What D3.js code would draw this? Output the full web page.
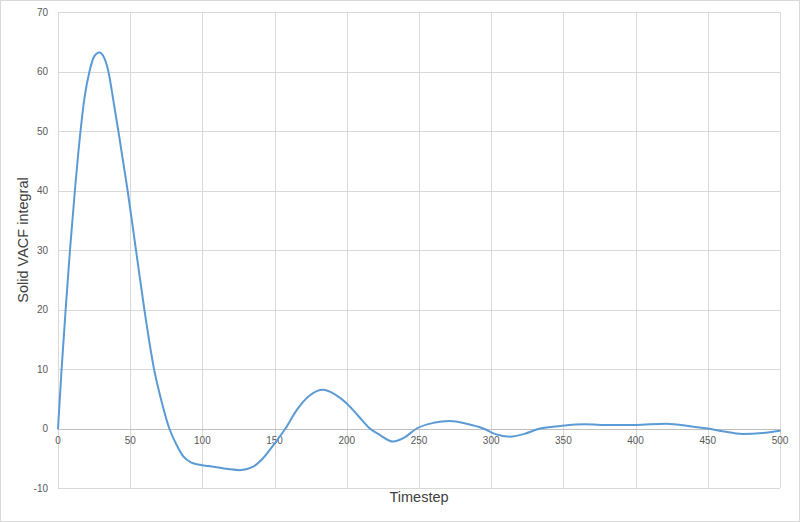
<!DOCTYPE html>
<html>
<head>
<meta charset="utf-8">
<script src="https://cdn.jsdelivr.net/npm/d3@7"></script>
<style>
  html, body { margin: 0; padding: 0; background: #fff; }
  svg { display: block; }
</style>
</head>
<body>
<svg id="chart" width="800" height="522"></svg>
<script>
// ---- data ----
const timesteps = [0, 2.5, 5.3, 8.3, 11.7, 15.6, 18.3, 21.8, 25, 28.6, 32, 34.9, 38.3, 41.8, 45, 48.2,
  54, 59.8, 66.5, 72, 77.1, 82, 86.8, 92, 98.3, 104, 109.9, 118, 126, 135.2, 142, 148.5, 157.5, 165.3,
  174.5, 183.5, 192, 200, 208, 216, 223, 232, 240, 248.4, 260, 271.5, 283, 294.5, 303, 313, 323, 333.8,
  348, 365, 382, 400, 421, 440, 450, 460, 474, 488, 500];
const vacf = [0, 10, 20, 30, 40, 50, 55.5, 60, 62.5, 63.2, 62.3, 60, 55.2, 50, 45, 40,
  30, 20, 10, 4.3, 0, -2.7, -4.7, -5.7, -6.1, -6.3, -6.5, -6.8, -7.0, -6.4, -5.0, -3.0, 0, 3.1,
  5.6, 6.5, 5.7, 4.2, 2.1, 0, -1.1, -2.2, -1.5, 0, 0.95, 1.26, 0.8, 0, -0.95, -1.37, -0.9, 0,
  0.42, 0.7, 0.57, 0.59, 0.81, 0.3, 0, -0.45, -0.92, -0.75, -0.37];
const xTicks = [0, 50, 100, 150, 200, 250, 300, 350, 400, 450, 500];
const yTicks = [-10, 0, 10, 20, 30, 40, 50, 60, 70];
const xTitle = "Timestep";
const yTitle = "Solid VACF integral";

// ---- layout ----
const svg = d3.select("#chart");
const W = 800, H = 522;
const pL = 58, pR = 780, pT = 12, pB = 488;

svg.append("rect").attr("x", 0.5).attr("y", 0.5).attr("width", W - 1).attr("height", H - 1)
  .attr("fill", "#fff").attr("stroke", "#d9d9d9");

const x = d3.scaleLinear().domain([0, 500]).range([pL, pR]);
const y = d3.scaleLinear().domain([-10, 70]).range([pB, pT]);

const font = "'Liberation Sans', Arial, sans-serif";

// gridlines
const g = svg.append("g");
g.selectAll("line.v").data(xTicks).join("line")
  .attr("x1", d => Math.round(x(d)) + 0.5).attr("x2", d => Math.round(x(d)) + 0.5)
  .attr("y1", pT).attr("y2", pB)
  .attr("stroke", "#d9d9d9").attr("stroke-width", 1);
g.selectAll("line.h").data(yTicks.filter(d => d !== 0)).join("line")
  .attr("x1", pL).attr("x2", pR)
  .attr("y1", d => Math.round(y(d)) + 0.5).attr("y2", d => Math.round(y(d)) + 0.5)
  .attr("stroke", "#d9d9d9").attr("stroke-width", 1);

// zero axis line
svg.append("line")
  .attr("x1", pL).attr("x2", pR)
  .attr("y1", Math.round(y(0)) + 0.5).attr("y2", Math.round(y(0)) + 0.5)
  .attr("stroke", "#bfbfbf").attr("stroke-width", 1);

// y tick labels
svg.append("g").selectAll("text").data(yTicks).join("text")
  .attr("x", pL - 10).attr("y", d => y(d)).attr("dy", "0.35em")
  .attr("text-anchor", "end")
  .attr("font-family", font).attr("font-size", 10).attr("fill", "#595959")
  .text(d => d);

// x tick labels (next to zero line)
svg.append("g").selectAll("text").data(xTicks).join("text")
  .attr("x", d => x(d)).attr("y", y(0) + 12).attr("dy", "0.35em")
  .attr("text-anchor", "middle")
  .attr("font-family", font).attr("font-size", 10).attr("fill", "#595959")
  .text(d => d);

// line
const data = timesteps.map((t, i) => [t, vacf[i]]);
const line = d3.line().x(d => x(d[0])).y(d => y(d[1])).curve(d3.curveMonotoneX);
svg.append("path").datum(data)
  .attr("d", line)
  .attr("fill", "none").attr("stroke", "#5b9bd5").attr("stroke-width", 2)
  .attr("stroke-linejoin", "round").attr("stroke-linecap", "round");

// axis titles
svg.append("text").attr("x", (pL + pR) / 2).attr("y", 497).attr("dy", "0.35em")
  .attr("text-anchor", "middle").attr("font-family", font).attr("font-size", 14.5)
  .attr("fill", "#404040").text(xTitle);
svg.append("text")
  .attr("transform", `translate(23,${240}) rotate(-90)`).attr("dy", "0.35em")
  .attr("text-anchor", "middle").attr("font-family", font).attr("font-size", 14.5)
  .attr("fill", "#404040").text(yTitle);
</script>
</body>
</html>
